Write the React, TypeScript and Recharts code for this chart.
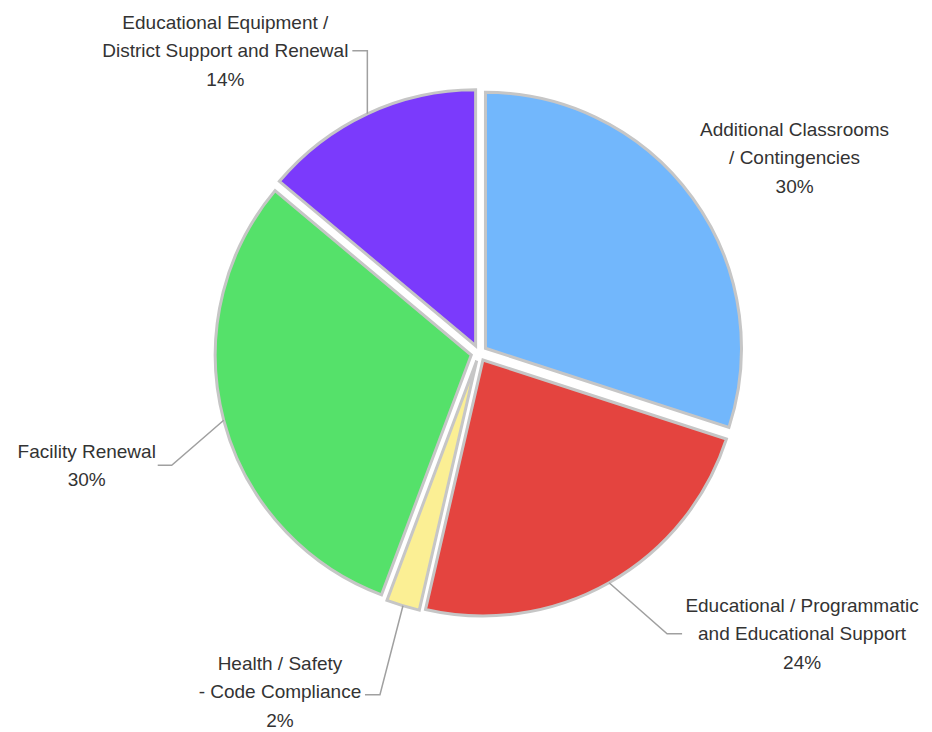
import { PieChart, Pie, Cell, Sector } from 'recharts';

// Budget split, clockwise from 12 o'clock
const CATEGORIES = [
  'Additional Classrooms\n/ Contingencies',
  'Educational / Programmatic\nand Educational Support',
  'Health / Safety\n- Code Compliance',
  'Facility Renewal',
  'Educational Equipment /\nDistrict Support and Renewal',
];
const SHARES = [30, 23.6, 2.1, 30.4, 13.9];
const COLORS = ['#72b7fc', '#e4443f', '#fbef94', '#55e16a', '#7b3afc'];

const data = CATEGORIES.map((name, i) => ({ name, value: SHARES[i] }));

const RAD = Math.PI / 180;
const EXPLODE = 8;
const LINE_H = 28.5;

// leader line layout: elbow offset from slice edge, horizontal tail, text block offset from tail end
const LEADERS = [
  { elbow: [0, 0], tail: 0, textDx: 102, textDy: -40, line: false },
  { elbow: [58, 51], tail: 15, textDx: 120, textDy: 0, line: true },
  { elbow: [-23, 89], tail: -15, textDx: -85, textDy: -3, line: true },
  { elbow: [-52, 45], tail: -14, textDx: -71, textDy: 0, line: true },
  { elbow: [0, -63], tail: -15, textDx: -127, textDy: 0, line: true },
];

const ExplodedSector = (props: any) => {
  const { cx, cy, midAngle } = props;
  const dx = EXPLODE * Math.cos(-midAngle * RAD);
  const dy = EXPLODE * Math.sin(-midAngle * RAD);
  return <Sector {...props} cx={cx + dx} cy={cy + dy} />;
};

const renderLabel = (props: any) => {
  const { cx, cy, midAngle, outerRadius, index, percent } = props;
  const cos = Math.cos(-midAngle * RAD);
  const sin = Math.sin(-midAngle * RAD);
  const sx = cx + (outerRadius + EXPLODE) * cos;
  const sy = cy + (outerRadius + EXPLODE) * sin;
  const lay = LEADERS[index];
  const ex = sx + lay.elbow[0];
  const ey = sy + lay.elbow[1];
  const tx = ex + lay.tail;
  const lines = [...CATEGORIES[index].split('\n'), `${Math.round(percent * 100)}%`];
  const tcx = tx + lay.textDx;
  const tcy = ey + lay.textDy;
  const top = tcy - ((lines.length - 1) * LINE_H) / 2;
  return (
    <g key={`lbl-${index}`}>
      {lay.line && (
        <polyline
          points={`${sx},${sy} ${ex},${ey} ${tx},${ey}`}
          fill="none"
          stroke="#a0a0a0"
          strokeWidth={1.5}
        />
      )}
      <text textAnchor="middle" fontSize={19} fill="#333" fontFamily="'Liberation Sans', Arial, sans-serif">
        {lines.map((l, i) => (
          <tspan key={i} x={tcx} y={top + i * LINE_H} dy="0.35em">
            {l}
          </tspan>
        ))}
      </text>
    </g>
  );
};

export default function App() {
  return (
    <div style={{ position: 'absolute', left: 0, top: 0, background: '#fff' }}>
      <PieChart width={932} height={732} margin={{ top: 0, right: 0, bottom: 0, left: 0 }}>
        <Pie
          data={data}
          dataKey="value"
          nameKey="name"
          cx={479}
          cy={353}
          outerRadius={256}
          startAngle={90}
          endAngle={-270}
          stroke="#c6c6c6"
          strokeWidth={3}
          shape={ExplodedSector}
          activeShape={ExplodedSector}
          label={renderLabel}
          labelLine={false}
          isAnimationActive={false}
        >
          {data.map((d, i) => (
            <Cell key={d.name} fill={COLORS[i]} />
          ))}
        </Pie>
      </PieChart>
    </div>
  );
}
